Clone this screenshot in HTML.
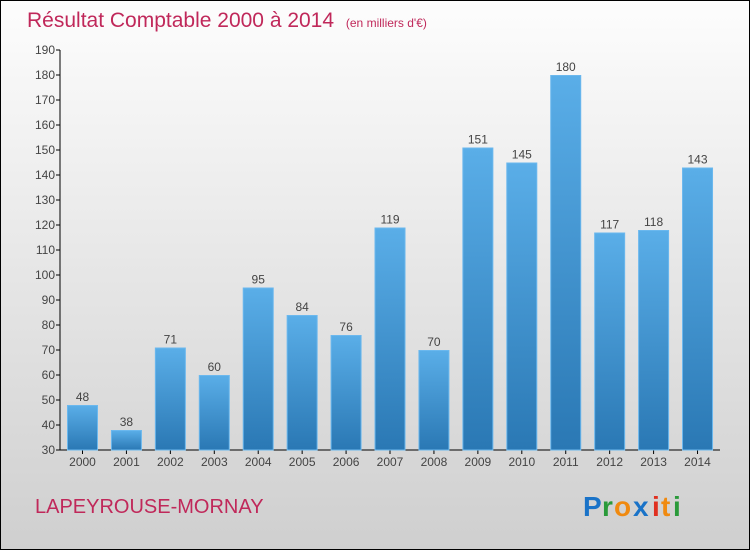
<!DOCTYPE html>
<html><head><meta charset="utf-8"><style>
html,body{margin:0;padding:0}
body{width:750px;height:550px;overflow:hidden;font-family:"Liberation Sans",sans-serif}
</style></head><body>
<svg width="750" height="550" xmlns="http://www.w3.org/2000/svg">
<defs>
<linearGradient id="bg" x1="0" y1="0" x2="0" y2="1"><stop offset="0" stop-color="#fdfdfd"/><stop offset="1" stop-color="#cfcfcf"/></linearGradient>
<linearGradient id="bar" x1="0" y1="0" x2="0" y2="1"><stop offset="0" stop-color="#5aaee8"/><stop offset="1" stop-color="#2a78b4"/></linearGradient>
</defs>
<rect x="0.5" y="0.5" width="749" height="549" fill="url(#bg)" stroke="#000"/>
<text x="27" y="27" font-size="21" fill="#c0285a">Résultat Comptable 2000 à 2014 <tspan font-size="12" dx="6">(en milliers d'€)</tspan></text>
<g id="axes"></g>
<g id="bars"></g>
<text x="35" y="513" font-size="20" fill="#c0285a">LAPEYROUSE-MORNAY</text>
<g font-size="28" font-weight="bold">
<text x="583" y="516" fill="#1a73c8">P</text><text x="602" y="516" fill="#2a9a3a">r</text><text x="614" y="516" fill="#f08a10">o</text><text x="633" y="516" fill="#1a73c8">x</text><text x="652" y="516" fill="#e03020">i</text><text x="661" y="516" fill="#f08a10">t</text><text x="673" y="516" fill="#2a9a3a">i</text>
</g>
</svg>
<script>
const years=["2000","2001","2002","2003","2004","2005","2006","2007","2008","2009","2010","2011","2012","2013","2014"];
const values=[48,38,71,60,95,84,76,119,70,151,145,180,117,118,143];
const yTicks=[30,40,50,60,70,80,90,100,110,120,130,140,150,160,170,180,190];
const NS="http://www.w3.org/2000/svg";
const y0=30,y1=190,py0=450,py1=50;
function y(v){return py0-(v-y0)/(y1-y0)*(py0-py1);}
function x(i){return 67+i*43.93;}
const bw=31;
function mk(t,a,p){const e=document.createElementNS(NS,t);for(const k in a)e.setAttribute(k,a[k]);p.appendChild(e);return e;}
const ax=document.getElementById('axes'),bg=document.getElementById('bars');
let l=mk('line',{x1:60,y1:py1,x2:60,y2:py0,stroke:'#000'},ax);


l=mk('line',{x1:60,y1:py0,x2:720,y2:py0,stroke:'#000'},ax);


yTicks.forEach(v=>{
 const t=mk('line',{x1:56,y1:y(v),x2:60,y2:y(v),stroke:'#000'},ax);
 
 
 const tx=mk('text',{x:55,y:y(v)+4,'font-size':12,fill:'#444','text-anchor':'end'},ax);
 tx.textContent=v;
 
 
});
years.forEach((yr,i)=>{
 const v=values[i],cx=x(i)+bw/2;
 const r=mk('rect',{x:x(i)+0.5,y:y(v)+0.5,width:bw-1,height:py0-y(v)-0.5,fill:'url(#bar)',stroke:'#6bb8ee'},bg);
 
 
 const t=mk('line',{x1:cx,y1:py0,x2:cx,y2:py0+4,stroke:'#000'},ax);
 
 
 const lb=mk('text',{x:cx,y:py0+16,'font-size':12,fill:'#444','text-anchor':'middle'},ax);
 lb.textContent=yr;
 
 
 const vl=mk('text',{x:cx,y:y(v)-4,'font-size':12,fill:'#444','text-anchor':'middle'},bg);
 vl.textContent=v;
 
 
});
</script>
</body></html>
